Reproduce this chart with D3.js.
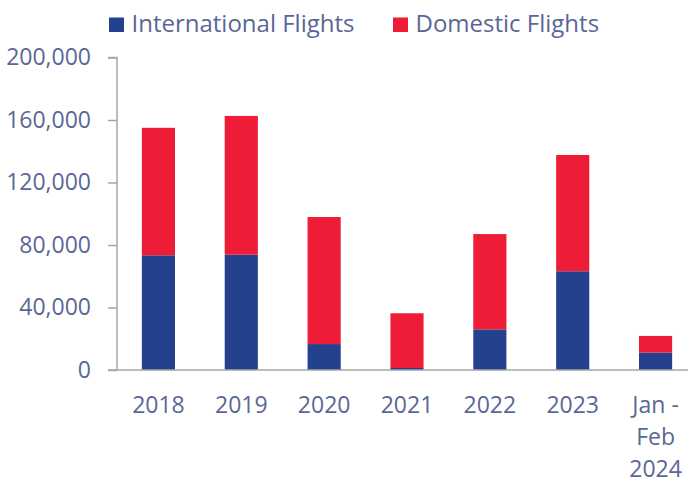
<!DOCTYPE html>
<html><head><meta charset="utf-8">
<script src="https://cdn.jsdelivr.net/npm/d3@7"></script>
<style>body{margin:0;background:#fff}svg{display:block}text{font-family:"Open Sans",sans-serif}</style>
</head><body>
<svg id="c" width="688" height="480"></svg>
<script>
const categories = ["2018","2019","2020","2021","2022","2023","Jan - Feb 2024"];
const categoryLines = [["2018"],["2019"],["2020"],["2021"],["2022"],["2023"],["Jan -","Feb","2024"]];
const international = [73400, 73800, 16600, 1300, 26000, 63200, 11100];
const domestic = [81600, 88800, 81300, 35000, 61000, 74400, 10700];
const seriesNames = ["International Flights","Domestic Flights"];
const yTicks = [0, 40000, 80000, 120000, 160000, 200000];

const colors = ["#24418e", "#ee1c37"];
const textColor = "#5a6796";
const axisColor = "#a6a6a6";

const svg = d3.select("#c");
const x = d3.scaleBand().domain(categories).range([117, 697]).paddingInner(0.6).paddingOuter(0.3);
const y = d3.scaleLinear().domain([0, 200000]).range([370, 57.5]);

const data = categories.map((c, i) => ({cat: c, International: international[i], Domestic: domestic[i]}));
const stack = d3.stack().keys(["International", "Domestic"])(data);

svg.append("g").selectAll("g").data(stack).join("g")
  .attr("fill", (d, i) => colors[i])
  .selectAll("rect").data(d => d).join("rect")
  .attr("x", d => x(d.data.cat))
  .attr("width", x.bandwidth())
  .attr("y", d => y(d[1]))
  .attr("height", d => y(d[0]) - y(d[1]));

// y axis
const yAxis = svg.append("g").attr("transform", "translate(117,0)")
  .call(d3.axisLeft(y).tickValues(yTicks).tickSize(9).tickPadding(17).tickFormat(d3.format(",")));
yAxis.select(".domain").attr("stroke", axisColor).attr("stroke-width", 1.5).attr("d", "M-9,57.5H0V370");
yAxis.selectAll(".tick line").attr("stroke", axisColor).attr("stroke-width", 1.5);
yAxis.selectAll(".tick text").attr("fill", textColor).style("font-size", "23px").style("font-family", "'Open Sans'");

// x axis
const xAxis = svg.append("g").attr("transform", "translate(0,370)")
  .call(d3.axisBottom(x).tickSize(0).tickFormat(""));
xAxis.select(".domain").attr("stroke", axisColor).attr("stroke-width", 1.5).attr("d", "M108,0H688");
xAxis.selectAll(".tick").each(function(d, i) {
  const t = d3.select(this).append("text").attr("fill", textColor).attr("text-anchor", "middle")
    .style("font-size", "23px").style("font-family", "'Open Sans'");
  categoryLines[i].forEach((ln, j) => t.append("tspan").attr("x", 0).attr("y", 42.5 + j * 32.3).text(ln));
});

// legend
const legendX = [109, 393];
const lg = svg.append("g");
seriesNames.forEach((n, i) => {
  lg.append("rect").attr("x", legendX[i]).attr("y", 17.5).attr("width", 15).attr("height", 14.5).attr("fill", colors[i]);
  lg.append("text").attr("x", legendX[i] + 22.5).attr("y", 31.7).attr("fill", textColor)
    .style("font-size", "24px").style("font-family", "'Open Sans'").text(n);
});
</script>
</body></html>
